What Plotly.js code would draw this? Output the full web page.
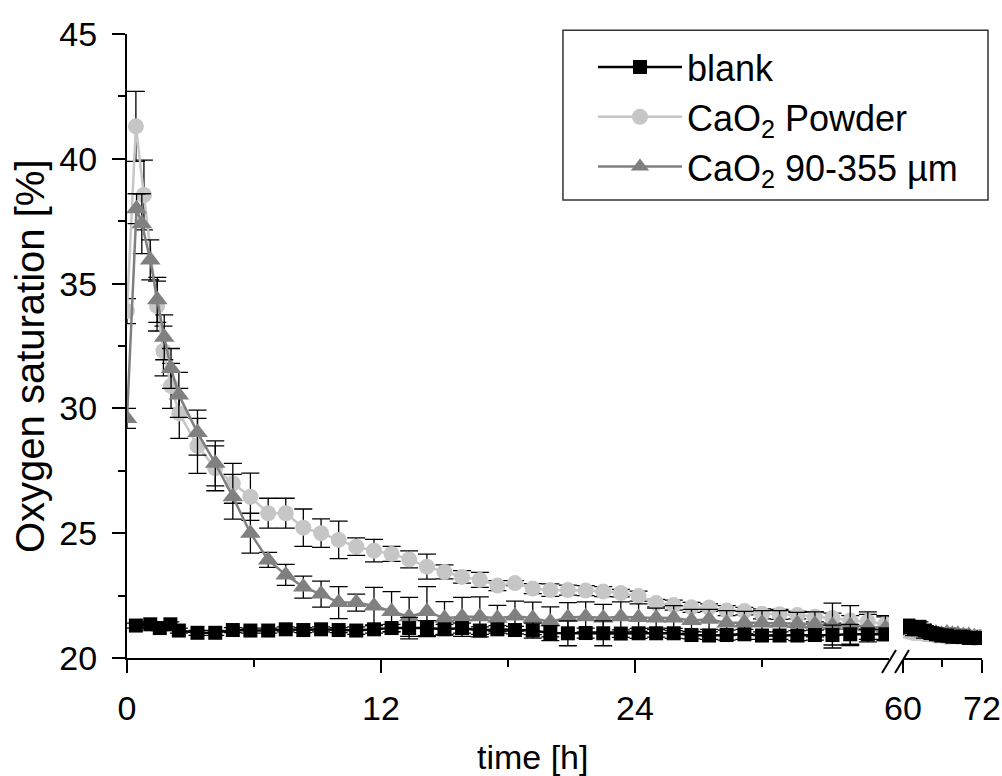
<!DOCTYPE html>
<html>
<head>
<meta charset="utf-8">
<script src="https://cdn.plot.ly/plotly-3.0.1.min.js"></script>
<style>html,body{margin:0;padding:0;background:#fff;}#chart{width:1002px;height:776px;}</style>
</head>
<body>
<div id="chart"></div>
<script>
// ---- Data: first time segment (0-36 h) ----
const tBlank = [0.42, 1.1, 1.55, 2.05, 2.45, 3.33, 4.17, 5.0, 5.83, 6.67, 7.5, 8.33, 9.17, 10.0, 10.83, 11.67, 12.5, 13.33, 14.17, 15.0, 15.83, 16.67, 17.5, 18.33, 19.17, 20.0, 20.83, 21.67, 22.5, 23.33, 24.17, 25.0, 25.83, 26.67, 27.5, 28.33, 29.17, 30.0, 30.83, 31.67, 32.5, 33.33, 34.17, 35.0, 35.83];
const blank = [21.3, 21.35, 21.2, 21.35, 21.1, 21.01, 21.01, 21.12, 21.1, 21.1, 21.15, 21.12, 21.15, 21.12, 21.1, 21.15, 21.2, 21.2, 21.2, 21.15, 21.2, 21.1, 21.15, 21.12, 21.1, 21.0, 20.99, 21.0, 20.99, 20.98, 20.99, 20.99, 20.99, 20.92, 20.9, 20.92, 20.95, 20.9, 20.9, 20.9, 20.92, 20.92, 20.95, 20.95, 20.95];
const blankErr = [0.1, 0.1, 0.1, 0.1, 0.1, 0.1, 0.1, 0.1, 0.1, 0.1, 0.1, 0.1, 0.1, 0.1, 0.15, 0.15, 0.15, 0.43, 0.3, 0.2, 0.2, 0.15, 0.15, 0.15, 0.3, 0.3, 0.5, 0.2, 0.5, 0.15, 0.2, 0.15, 0.2, 0.15, 0.15, 0.2, 0.2, 0.15, 0.15, 0.2, 0.2, 0.4, 0.4, 0.2, 0.2];

const tPowder = [0, 0.42, 0.8, 1.42, 1.72, 2.08, 2.47, 3.33, 4.17, 5.0, 5.83, 6.67, 7.5, 8.33, 9.17, 10.0, 10.83, 11.67, 12.5, 13.33, 14.17, 15.0, 15.83, 16.67, 17.5, 18.33, 19.17, 20.0, 20.83, 21.67, 22.5, 23.33, 24.17, 25.0, 25.83, 26.67, 27.5, 28.33, 29.17, 30.0, 30.83, 31.67, 32.5, 33.33, 34.17, 35.0, 35.83];
const powder = [33.9, 41.3, 38.55, 34.1, 32.3, 30.9, 29.8, 28.5, 27.6, 27.0, 26.46, 25.8, 25.8, 25.22, 25.0, 24.73, 24.46, 24.3, 24.17, 23.95, 23.66, 23.45, 23.25, 23.13, 22.9, 23.0, 22.78, 22.72, 22.72, 22.7, 22.66, 22.6, 22.48, 22.2, 22.12, 22.03, 22.02, 21.9, 21.88, 21.77, 21.75, 21.72, 21.65, 21.6, 21.5, 21.45, 21.35];
const powderErr = [0.5, 1.4, 1.4, 1.0, 1.0, 0.9, 1.0, 1.1, 0.9, 0.8, 0.95, 0.6, 0.6, 0.75, 0.57, 0.75, 0.35, 0.45, 0.3, 0.34, 0.5, 0.28, 0.25, 0.3, 0.2, 0.1, 0.2, 0.25, 0.2, 0.2, 0.2, 0.15, 0.2, 0.15, 0.2, 0.2, 0.15, 0.2, 0.15, 0.2, 0.2, 0.15, 0.2, 0.2, 0.2, 0.3, 0.3];

const tCoarse = [0, 0.45, 0.7, 1.1, 1.43, 1.76, 2.08, 2.45, 3.33, 4.17, 5.0, 5.83, 6.67, 7.5, 8.33, 9.17, 10.0, 10.83, 11.67, 12.5, 13.33, 14.17, 15.0, 15.83, 16.67, 17.5, 18.33, 19.17, 20.0, 20.83, 21.67, 22.5, 23.33, 24.17, 25.0, 25.83, 26.67, 27.5, 28.33, 29.17, 30.0, 30.83, 31.67, 32.5, 33.33, 34.17, 35.0, 35.83];
const coarse = [29.6, 38.0, 37.4, 35.95, 34.35, 32.85, 31.6, 30.54, 29.03, 27.8, 26.46, 25.0, 23.93, 23.33, 22.84, 22.56, 22.22, 22.22, 22.08, 21.86, 21.65, 21.86, 21.59, 21.65, 21.65, 21.59, 21.68, 21.59, 21.45, 21.62, 21.65, 21.6, 21.65, 21.62, 21.6, 21.6, 21.5, 21.55, 21.4, 21.42, 21.4, 21.4, 21.38, 21.35, 21.3, 21.3, 21.25, 21.2];
const coarseErr = [0.4, 0.6, 1.2, 0.8, 0.9, 0.9, 0.8, 0.9, 0.9, 0.9, 0.9, 0.8, 0.3, 0.42, 0.44, 0.52, 0.64, 0.34, 0.75, 0.8, 0.78, 1.0, 0.67, 0.78, 0.8, 0.52, 0.6, 0.65, 0.6, 0.6, 0.6, 0.55, 0.6, 0.55, 0.4, 0.5, 0.45, 0.4, 0.5, 0.45, 0.5, 0.5, 0.45, 0.5, 0.9, 0.8, 0.6, 0.5];

// ---- Data: second time segment (60-72 h) ----
const t2 = [60.0, 60.83, 61.67, 62.5, 63.33, 64.17, 65.0, 65.83, 66.67, 67.5, 68.33, 69.17, 70.0, 70.83, 71.67];
const blank2 = [21.25, 21.3, 21.2, 21.25, 21.1, 21.0, 20.95, 20.9, 20.9, 20.85, 20.85, 20.85, 20.8, 20.8, 20.8];
const blank2Err = [0.2, 0.2, 0.2, 0.2, 0.2, 0.2, 0.2, 0.2, 0.2, 0.2, 0.2, 0.2, 0.2, 0.2, 0.2];
const powder2 = [21.1, 21.05, 21.0, 21.0, 20.95, 20.95, 20.9, 20.9, 20.85, 20.9, 20.85, 20.85, 20.85, 20.8, 20.85];
const powder2Err = [0.2, 0.2, 0.2, 0.2, 0.2, 0.2, 0.2, 0.2, 0.2, 0.2, 0.2, 0.2, 0.2, 0.2, 0.2];
const coarse2 = [21.2, 21.15, 21.1, 21.1, 21.0, 21.05, 21.0, 20.95, 21.0, 20.95, 20.95, 20.9, 20.9, 20.85, 20.8];
const coarse2Err = [0.2, 0.2, 0.2, 0.2, 0.2, 0.2, 0.2, 0.2, 0.2, 0.2, 0.2, 0.2, 0.2, 0.2, 0.2];

const names = ['blank', 'CaO<sub>2</sub> Powder', 'CaO<sub>2</sub> 90-355 µm'];
const xTicks1 = [0, 12, 24];
const xMinor1 = [6, 18, 30];
const xTicks2 = [60, 72];
const xMinor2 = [66];
const yTicks = [20, 25, 30, 35, 40, 45];
const yMinor = [22.5, 27.5, 32.5, 37.5, 42.5];

const FONT = 'Liberation Sans, Arial, Helvetica, sans-serif';

function errBar(arr) {
  return {type: 'data', array: arr, visible: true, color: '#000', thickness: 1.3, width: 9};
}
function mk(x, y, e, name, color, symbol, size, xa, show, rank) {
  return {
    x: x, y: y, name: name, type: 'scatter', mode: 'lines+markers',
    xaxis: xa, yaxis: 'y', showlegend: show, legendrank: rank,
    line: {color: color, width: 2.5},
    marker: {color: color, symbol: symbol, size: size},
    error_y: errBar(e)
  };
}

const LIGHT = '#c6c6c6', MID = '#808080';
const data = [
  mk(tPowder, powder, powderErr, names[1], LIGHT, 'circle', 16, 'x', true, 2),
  mk(tCoarse, coarse, coarseErr, names[2], MID, 'triangle-up', 18, 'x', true, 3),
  mk(tBlank, blank, blankErr, names[0], '#000', 'square', 14, 'x', true, 1),
  mk(t2, powder2, powder2Err, names[1], LIGHT, 'circle', 16, 'x2', false, 2),
  mk(t2, coarse2, coarse2Err, names[2], MID, 'triangle-up', 18, 'x2', false, 3),
  mk(t2, blank2, blank2Err, names[0], '#000', 'square', 14, 'x2', false, 1)
];

const axBase = {
  showline: true, linecolor: '#000', linewidth: 2, ticks: 'outside', ticklen: 13, tickwidth: 2,
  tickcolor: '#000', showgrid: false, zeroline: false, mirror: false,
  tickfont: {family: FONT, size: 34, color: '#000'}
};

const layout = {
  width: 1002, height: 776,
  margin: {l: 127, r: 20, t: 34, b: 118},
  paper_bgcolor: '#fff', plot_bgcolor: '#fff',
  font: {family: FONT, color: '#000'},
  xaxis: Object.assign({}, axBase, {
    domain: [0, 0.8912], range: [0, 36], anchor: 'y', tickmode: 'array', tickvals: xTicks1,
    ticklabelstandoff: 6,
    minor: {tickmode: 'array', tickvals: xMinor1, ticklen: 7, tickwidth: 2, ticks: 'outside', tickcolor: '#000', showgrid: false}
  }),
  xaxis2: Object.assign({}, axBase, {
    domain: [0.9076, 1], range: [60, 72], anchor: 'y', tickmode: 'array', tickvals: xTicks2,
    ticklabelstandoff: 6,
    minor: {tickmode: 'array', tickvals: xMinor2, ticklen: 7, tickwidth: 2, ticks: 'outside', tickcolor: '#000', showgrid: false}
  }),
  yaxis: Object.assign({}, axBase, {
    range: [20, 45], tickmode: 'array', tickvals: yTicks, ticklabelstandoff: 8,
    minor: {tickmode: 'array', tickvals: yMinor, ticklen: 7, tickwidth: 2, ticks: 'outside', tickcolor: '#000', showgrid: false}
  }),
  legend: {
    x: 0.545, y: 0.995, xanchor: 'left', yanchor: 'top',
    bgcolor: 'rgba(0,0,0,0)', borderwidth: 0,
    font: {family: FONT, size: 36, color: '#000'},
    itemwidth: 84, tracegroupgap: 0
  },
  annotations: [
    {text: 'time [h]', xref: 'paper', yref: 'paper', x: 0.4737, y: -0.159, xanchor: 'center', yanchor: 'middle',
     showarrow: false, font: {family: FONT, size: 34, color: '#000'}},
    {text: 'Oxygen saturation [%]', xref: 'paper', yref: 'paper', x: -0.1134, y: 0.484, xanchor: 'center', yanchor: 'middle',
     textangle: -90, showarrow: false, font: {family: FONT, size: 40, color: '#000'}}
  ],
  shapes: [
    // legend frame
    {type: 'rect', xref: 'paper', yref: 'paper', x0: 0.5099, x1: 1.007, y0: 0.734, y1: 1.006, layer: 'above',
     fillcolor: '#fff', line: {color: '#333', width: 1.5}},
    // axis break marks
    {type: 'line', xref: 'paper', yref: 'paper', xsizemode: 'pixel', ysizemode: 'pixel', xanchor: 0.8994, yanchor: 0,
     x0: -14, y0: -15, x1: 0, y1: 8, line: {color: '#000', width: 2}},
    {type: 'line', xref: 'paper', yref: 'paper', xsizemode: 'pixel', ysizemode: 'pixel', xanchor: 0.8994, yanchor: 0,
     x0: -1, y0: -15, x1: 13, y1: 8, line: {color: '#000', width: 2}}
  ],
  showlegend: true
};

Plotly.newPlot('chart', data, layout, {displayModeBar: false, staticPlot: true});
</script>
</body>
</html>
